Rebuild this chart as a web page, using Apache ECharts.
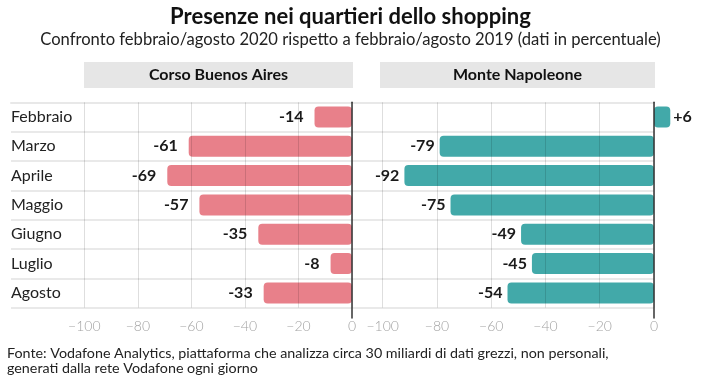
<!DOCTYPE html>
<html>
<head>
<meta charset="utf-8">
<script src="https://cdn.jsdelivr.net/npm/echarts@6/dist/echarts.min.js"></script>
<style>html,body{margin:0;padding:0;background:#fff}#c{width:701px;height:384px}</style>
</head>
<body>
<div id="c"></div>
<script>
const categories = ['Febbraio', 'Marzo', 'Aprile', 'Maggio', 'Giugno', 'Luglio', 'Agosto'];
const corsoBuenosAires = [-14, -61, -69, -57, -35, -8, -33];
const monteNapoleone = [6, -79, -92, -75, -49, -45, -54];
const xMin = -100, xMax = 0, xStep = 20;
const panelNames = ['Corso Buenos Aires', 'Monte Napoleone'];

const FONT = 'Lato, "Noto Sans", sans-serif';
const PINK = '#e8808a', TEAL = '#42a9a9';
const TOP = 102.3, H = 205.3, AXH = 215.7;

const chart = echarts.init(document.getElementById('c'), null, {renderer: 'canvas'});

function fmtVal(v) { return v > 0 ? '+' + v : String(v); }
function fmtTick(v) { return v < 0 ? '\u2212' + Math.abs(v) : String(v); }

const barXAxis = (gi) => ({
  gridIndex: gi, type: 'value', min: xMin, max: xMax, interval: xStep, z: 5,
  axisLine: {show: false}, axisTick: {show: false},
  splitLine: {show: true, lineStyle: {color: 'rgba(0,0,0,0.13)', width: 1}},
  axisLabel: {color: '#a3a3a3', fontSize: 14, fontWeight: 300, fontFamily: FONT, margin: 12, formatter: fmtTick}
});
const bgXAxis = (gi) => ({
  gridIndex: gi, type: 'value', min: 0, max: 1, position: 'top',
  axisLine: {show: true, lineStyle: {color: '#e8e8e8', width: 2}},
  axisTick: {show: false}, axisLabel: {show: false}, splitLine: {show: false}
});
const lineXAxis = (gi) => ({
  gridIndex: gi, type: 'value', min: xMin, max: xMax,
  axisLine: {show: false}, axisTick: {show: false}, axisLabel: {show: false}, splitLine: {show: false}
});

const option = {
  animation: false,
  backgroundColor: '#fff',
  title: [
    {text: 'Presenze nei quartieri dello shopping', left: 'center', top: 5, padding: 0,
     textStyle: {fontFamily: FONT, fontSize: 22, fontWeight: 'bold', color: '#111', lineHeight: 24}},
    {text: 'Confronto febbraio/agosto 2020 rispetto a febbraio/agosto 2019 (dati in percentuale)', left: 'center', top: 31, padding: 0,
     textStyle: {fontFamily: FONT, fontSize: 16.6, fontWeight: 'normal', color: '#222', lineHeight: 18}},
    {text: 'Fonte: Vodafone Analytics, piattaforma che analizza circa 30 miliardi di dati grezzi, non personali,\ngenerati dalla rete Vodafone ogni giorno', left: 7, top: 346, padding: 0,
     textStyle: {fontFamily: FONT, fontSize: 14.3, fontWeight: 'normal', color: '#222', lineHeight: 15}}
  ],
  graphic: [
    {type: 'rect', shape: {x: 84, y: 62, width: 269, height: 26}, style: {fill: '#e6e6e6'},
     textContent: {style: {text: panelNames[0], fontFamily: FONT, fontSize: 16, fontWeight: 'bold', fill: '#111'}},
     textConfig: {position: 'inside'}},
    {type: 'rect', shape: {x: 380, y: 62, width: 275, height: 26}, style: {fill: '#e6e6e6'},
     textContent: {style: {text: panelNames[1], fontFamily: FONT, fontSize: 16, fontWeight: 'bold', fill: '#111'}},
     textConfig: {position: 'inside'}}
  ],
  grid: [
    {left: 84.3, top: TOP, width: 267.7, height: H},
    {left: 382.7, top: TOP, width: 271.3, height: H},
    {left: 11, top: TOP, width: 341, height: H},
    {left: 352, top: TOP, width: 302, height: H},
    {left: 84.3, top: TOP, width: 267.7, height: AXH},
    {left: 382.7, top: TOP, width: 271.3, height: AXH}
  ],
  xAxis: [barXAxis(0), barXAxis(1), bgXAxis(2), bgXAxis(3), lineXAxis(4), lineXAxis(5)],
  yAxis: [
    {gridIndex: 0, type: 'category', data: categories, inverse: true,
     axisLine: {show: false}, axisTick: {show: false}, splitLine: {show: false},
     axisLabel: {align: 'left', margin: 73.3, fontSize: 16, color: '#222', fontFamily: FONT}},
    {gridIndex: 1, type: 'category', data: categories, inverse: true,
     axisLine: {show: false}, axisTick: {show: false}, splitLine: {show: false}, axisLabel: {show: false}},
    {gridIndex: 2, type: 'category', data: categories, inverse: true,
     axisLine: {show: false}, axisTick: {show: false}, axisLabel: {show: false},
     splitLine: {show: true, lineStyle: {color: '#e2e2e2', width: 1.5}}},
    {gridIndex: 3, type: 'category', data: categories, inverse: true,
     axisLine: {show: false}, axisTick: {show: false}, axisLabel: {show: false},
     splitLine: {show: true, lineStyle: {color: '#e2e2e2', width: 1.5}}},
    {gridIndex: 4, type: 'value', z: 6, axisLine: {show: true, onZero: true, lineStyle: {color: '#333', width: 1.5}},
     axisTick: {show: false}, axisLabel: {show: false}, splitLine: {show: false}},
    {gridIndex: 5, type: 'value', z: 6, axisLine: {show: true, onZero: true, lineStyle: {color: '#333', width: 1.5}},
     axisTick: {show: false}, axisLabel: {show: false}, splitLine: {show: false}}
  ],
  series: [
    {type: 'bar', xAxisIndex: 0, yAxisIndex: 0, barWidth: 21,
     data: corsoBuenosAires.map(v => ({value: v, label: {position: v < 0 ? 'left' : 'right', distance: v < 0 ? 11 : 3}})),
     itemStyle: {color: PINK, borderRadius: 4},
     label: {show: true, formatter: p => fmtVal(p.value), fontFamily: FONT, fontSize: 16, fontWeight: 'bold', color: '#1a1a1a'}},
    {type: 'bar', xAxisIndex: 1, yAxisIndex: 1, barWidth: 21, clip: false,
     data: monteNapoleone.map(v => ({value: v, label: {position: v < 0 ? 'left' : 'right', distance: v < 0 ? 5 : 3}})),
     itemStyle: {color: TEAL, borderRadius: 4},
     label: {show: true, formatter: p => fmtVal(p.value), fontFamily: FONT, fontSize: 16, fontWeight: 'bold', color: '#1a1a1a'}}
  ]
};
chart.setOption(option);
</script>
</body>
</html>
